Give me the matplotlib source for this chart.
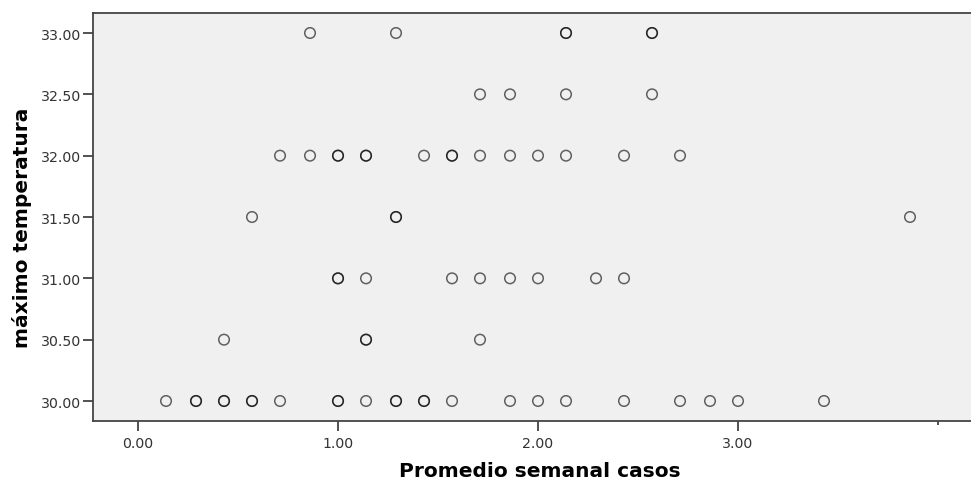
import numpy as np
import matplotlib
matplotlib.use("Agg")
import matplotlib.pyplot as plt

plt.rcParams['font.family'] = ['DejaVu Sans']

# promedio semanal de casos (x) y temperatura maxima (y), duplicados incluidos
x_33 = [0.86, 1.29, 2.14, 2.14, 2.57, 2.57]
x_325 = [1.71, 1.86, 2.14, 2.57]
x_32 = [0.71, 0.86, 1.00, 1.00, 1.14, 1.14, 1.43, 1.57, 1.57, 1.71, 1.86, 2.00, 2.14, 2.43, 2.71]
x_315 = [0.57, 1.29, 1.29, 3.86]
x_31 = [1.00, 1.00, 1.14, 1.57, 1.71, 1.86, 2.00, 2.29, 2.43]
x_305 = [0.43, 1.14, 1.14, 1.71]
x_30 = [0.14, 0.29, 0.29, 0.43, 0.43, 0.57, 0.57, 0.71, 1.00, 1.00, 1.14, 1.29, 1.29,
        1.43, 1.43, 1.57, 1.86, 2.00, 2.14, 2.43, 2.71, 2.86, 3.00, 3.43]

groups = [(33.0, x_33), (32.5, x_325), (32.0, x_32), (31.5, x_315),
          (31.0, x_31), (30.5, x_305), (30.0, x_30)]

xs = np.concatenate([g[1] for g in groups])
ys = np.concatenate([[g[0]] * len(g[1]) for g in groups])

fig = plt.figure(figsize=(9.71, 4.85), dpi=100)
ax = fig.add_axes([0.0958, 0.1299, 0.9042, 0.8412])
ax.set_facecolor('#f0f0f0')

ax.scatter(xs, ys, s=58, facecolors='none', edgecolors=(0, 0, 0, 0.6), linewidths=1.1)

ax.set_xlim(-0.225, 4.165)
ax.set_ylim(29.837, 33.163)

ax.set_xticks([0, 1, 2, 3])
ax.set_xticklabels(['0.00', '1.00', '2.00', '3.00'])
ax.set_xticks([4], minor=True)
ax.set_yticks([30.0, 30.5, 31.0, 31.5, 32.0, 32.5, 33.0])
ax.set_yticklabels(['%.2f' % v for v in [30.0, 30.5, 31.0, 31.5, 32.0, 32.5, 33.0]])
ax.tick_params(axis='both', which='major', direction='out', length=7.5, width=1.2,
               color='#333333', labelsize=10.2, labelcolor='#333333')
ax.tick_params(axis='y', pad=1)
ax.tick_params(axis='x', pad=3)
ax.tick_params(axis='x', which='minor', direction='out', length=3, width=1.2, color='#333333')

for side in ['left', 'bottom', 'top']:
    ax.spines[side].set_color('#444444')
    ax.spines[side].set_linewidth(1.3)
ax.spines['right'].set_visible(False)

ax.set_xlabel('Promedio semanal casos', fontsize=14.5, fontweight='bold')
ax.xaxis.set_label_coords(0.509, -0.098)
ax.set_ylabel('máximo temperatura', fontsize=14.5, fontweight='bold')
ax.yaxis.set_label_coords(-0.069, 0.475)

fig.savefig('out.png', dpi=100)
